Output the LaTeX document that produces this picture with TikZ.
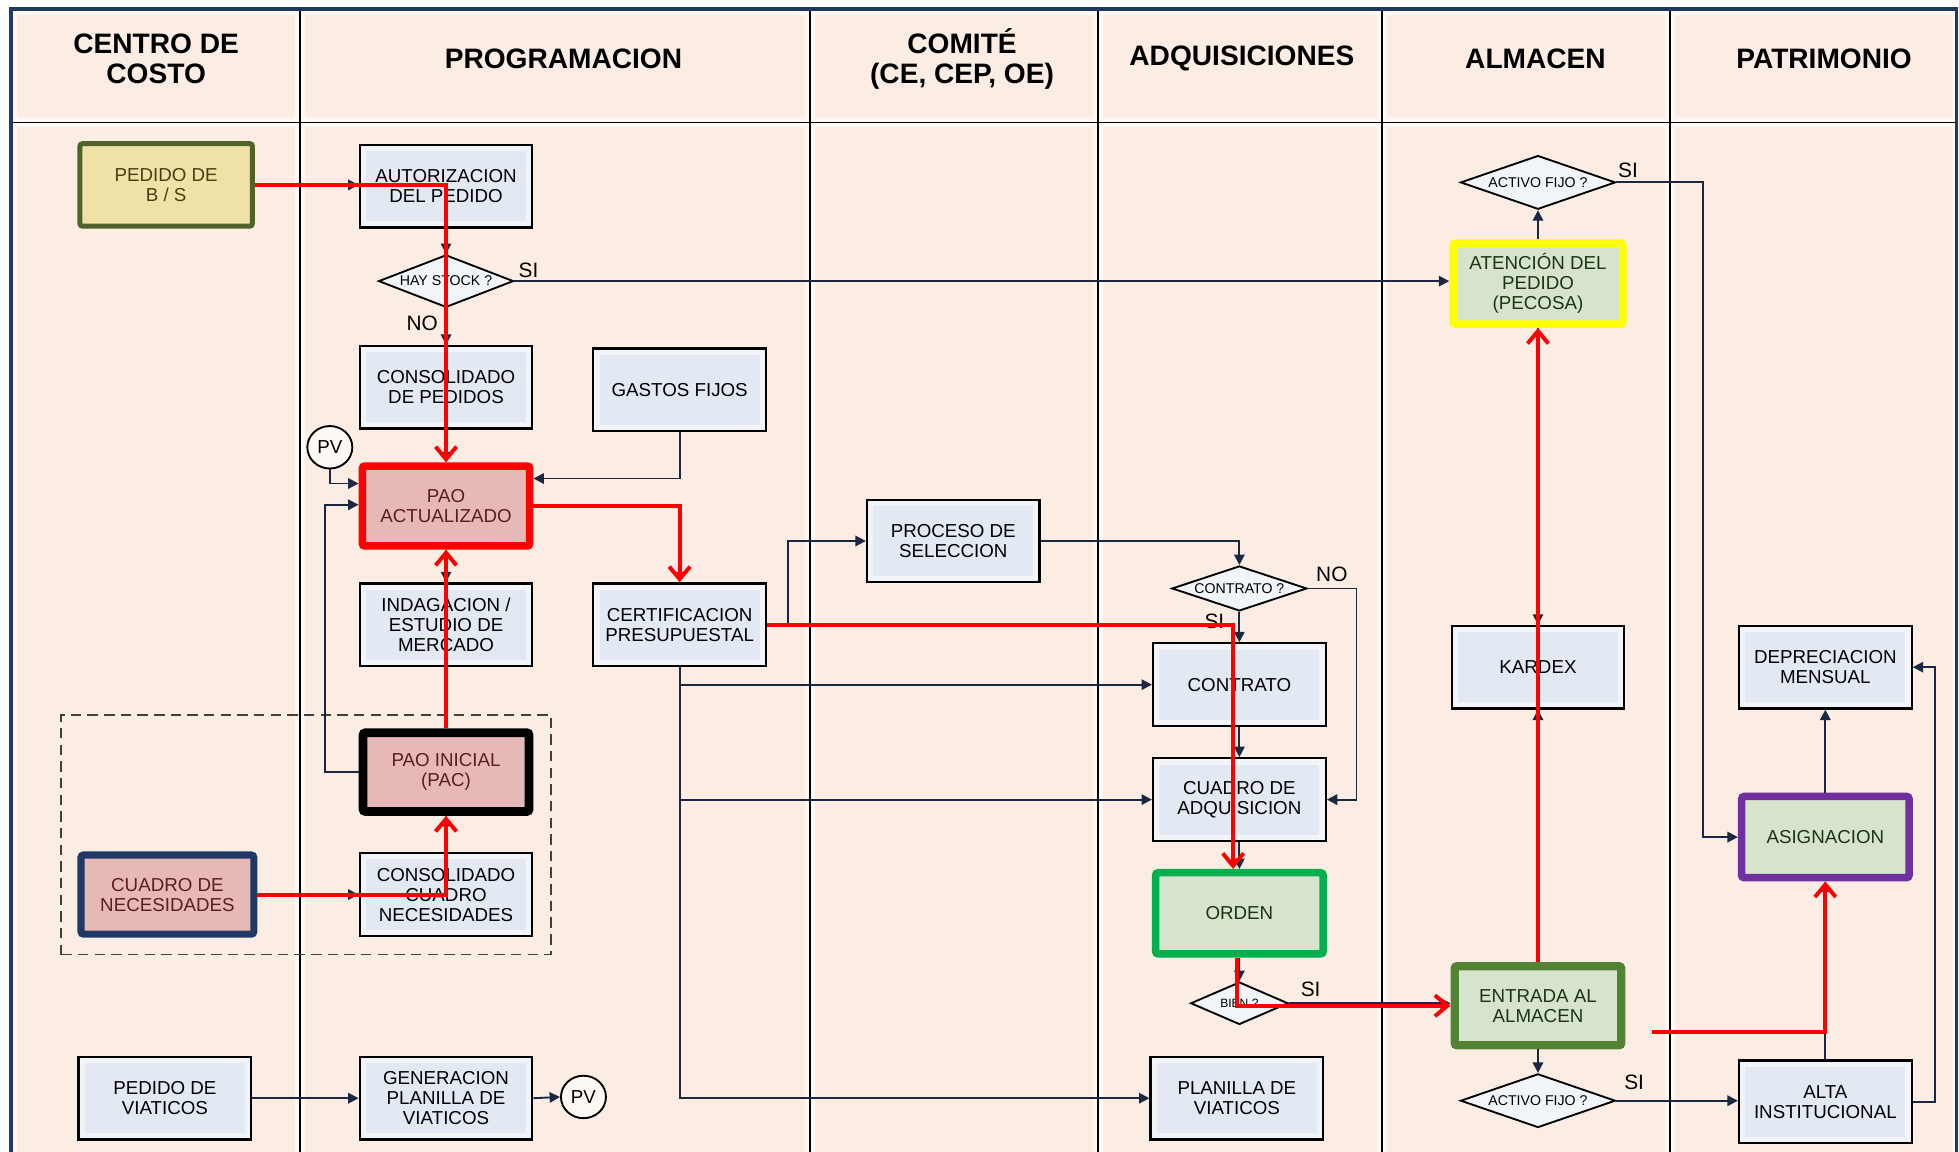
\documentclass[tikz,border=0pt]{standalone}
\usepackage{fontspec}
\setmainfont{Liberation Sans}
\usetikzlibrary{arrows.meta,shapes.geometric,calc}
\definecolor{lanebg}{HTML}{FBEDE3}
\definecolor{glow}{HTML}{FEF8F4}
\definecolor{framec}{HTML}{1F3864}
\definecolor{boxfill}{HTML}{F1F4F9}
\definecolor{boxin}{HTML}{E2E9F3}
\definecolor{pinkfill}{HTML}{E6B9B8}
\definecolor{greenfill}{HTML}{D7E4CD}
\definecolor{khaki}{HTML}{F0E2A6}
\definecolor{olive}{HTML}{4F6228}
\definecolor{navyb}{HTML}{1F3864}
\definecolor{connc}{HTML}{1C2741}
\definecolor{ordgreen}{HTML}{00B050}
\definecolor{entgreen}{HTML}{548235}
\definecolor{purp}{HTML}{7030A0}
\definecolor{yel}{HTML}{FFFF00}
\definecolor{redc}{HTML}{FF0000}
\definecolor{maroon}{HTML}{5A1E1E}
\definecolor{dgreen}{HTML}{1E3314}
\definecolor{brownol}{HTML}{4A3D10}
\newcommand\bxf{\fontsize{9}{9.6}\selectfont}
\newcommand\hdf{\bfseries\fontsize{13.5}{14.5}\selectfont}
\begin{document}
\begin{tikzpicture}[x=0.6pt,y=-0.6pt,
  box/.style={rectangle, draw=black, line width=1.1pt, fill=boxfill,
    minimum width=82.9pt, minimum height=39.7pt, inner sep=1pt, align=center,
    font=\bxf, text=black,
    path picture={\fill[boxin] ($(path picture bounding box.south west)+(3pt,3pt)$) rectangle ($(path picture bounding box.north east)+(-3pt,-3pt)$);}},
  hlbox/.style={rectangle, rounded corners=1.2pt, inner sep=1pt, align=center, font=\bxf},
  dia/.style={diamond, draw=black, line width=0.9pt, fill=boxfill, inner sep=0pt,
    font=\fontsize{6.8}{7}\selectfont, text=black},
  pvc/.style={ellipse, draw=black, line width=0.9pt, fill=glow, inner sep=0pt,
    minimum width=21.6pt, minimum height=20.4pt, font=\fontsize{9}{9}\selectfont},
  hdr/.style={align=center, font=\hdf, text=black},
  lbl/.style={font=\fontsize{10}{10}\selectfont, text=black, inner sep=0pt},
  conn/.style={draw=connc, line width=0.9pt, -{Triangle[length=5pt,width=5pt]}},
  plain/.style={draw=connc, line width=0.9pt},
  redp/.style={draw=redc, line width=1.9pt, -{Straight Barb[length=6pt,width=10pt,line width=1.9pt]}}
]
\useasboundingbox (0,0) rectangle (1568,922);
\clip (0,0) rectangle (1568,922);
% background
\fill[white] (0,0) rectangle (1568,922);
\fill[glow] (10,8) rectangle (1566,930);
\foreach \a/\b in {10/240,240/648,648/879,879/1106,1106/1337,1337/1566}{
  \fill[lanebg] (\a+4,12) rectangle (\b-4,94);
  \fill[lanebg] (\a+4,102) rectangle (\b-4,930);
}
\foreach \a in {240,648,879,1106,1337}{
  \draw[black, line width=0.9pt] (\a,8) -- (\a,930);
}
\draw[black, line width=0.9pt] (10,98) -- (1566,98);
\draw[framec, line width=1.8pt] (9,7) rectangle (1566,935);
% headers
\node[hdr] (h1) at (125,47) {CENTRO DE\\COSTO};
\node[hdr] (h2) at (451,47) {PROGRAMACION};
\node[hdr] (h3) at (770,47) {COMITÉ\\(CE, CEP, OE)};
\node[hdr] (h4) at (994,47) {ADQUISICIONES};
\node[hdr] (h5) at (1229,47) {ALMACEN};
\node[hdr] (h6) at (1460,47) {PATRIMONIO};
% dashed group
\node[draw=black!75, dashed, dash pattern=on 5pt off 3pt, line width=0.9pt, minimum width=235.2pt, minimum height=115.2pt, inner sep=0pt] (grp) at (245,668) {};
% nodes
\node[hlbox, draw=olive, line width=2.4pt, fill=khaki, text=brownol, minimum width=82.8pt, minimum height=39.6pt] (pbs) at (133,148) {PEDIDO DE\\B / S};
\node[box] (aut) at (357,149) {AUTORIZACION\\DEL PEDIDO};
\node[dia, aspect=2.57, minimum width=64.8pt, minimum height=25.2pt] (hay) at (357,225) {HAY STOCK ?};
\node[box] (cped) at (357,310) {CONSOLIDADO\\DE PEDIDOS};
\node[box] (gas) at (544,312) {GASTOS FIJOS};
\node[pvc] (pv1) at (264,358) {PV};
\node[hlbox, draw=redc, line width=3.6pt, fill=pinkfill, text=maroon, minimum width=80.4pt, minimum height=38.4pt] (paoa) at (357,405) {PAO\\ACTUALIZADO};
\node[box] (ind) at (357,500) {INDAGACION /\\ESTUDIO DE\\MERCADO};
\node[box] (cert) at (544,500) {CERTIFICACION\\PRESUPUESTAL};
\node[box] (proc) at (763,433) {PROCESO DE\\SELECCION};
\node[dia, aspect=3, minimum width=64.8pt, minimum height=21.6pt] (con) at (992,471) {CONTRATO ?};
\node[box] (cont) at (992,548) {CONTRATO};
\node[box] (cadq) at (992,640) {CUADRO DE\\ADQUISICION};
\node[hlbox, draw=ordgreen, line width=3.6pt, fill=greenfill, text=dgreen, minimum width=80.4pt, minimum height=39pt] (ord) at (992,731) {ORDEN};
\node[dia, aspect=2.3, minimum width=46.8pt, minimum height=20.4pt, font=\fontsize{5.8}{6}\selectfont] (bien) at (992,803) {BIEN ?};
\node[box] (plan) at (990,879) {PLANILLA DE\\VIATICOS};
\node[hlbox, draw=black, line width=4.2pt, fill=pinkfill, text=maroon, minimum width=79.8pt, minimum height=37.8pt] (paoi) at (357,618) {PAO INICIAL\\(PAC)};
\node[hlbox, draw=navyb, line width=3.4pt, fill=pinkfill, text=maroon, minimum width=83pt, minimum height=38pt] (cnec) at (134,716) {CUADRO DE\\NECESIDADES};
\node[box] (ccn) at (357,716) {CONSOLIDADO\\CUADRO\\NECESIDADES};
\node[box] (pvia) at (132,879) {PEDIDO DE\\VIATICOS};
\node[box] (gen) at (357,879) {GENERACION\\PLANILLA DE\\VIATICOS};
\node[pvc] (pv2) at (467,878) {PV};
\node[dia, aspect=2.88, minimum width=74.4pt, minimum height=25.8pt] (af1) at (1231,146) {ACTIVO FIJO ?};
\node[hlbox, draw=yel, line width=3.6pt, fill=greenfill, text=dgreen, minimum width=81.6pt, minimum height=39pt] (aten) at (1231,227) {ATENCIÓN DEL\\PEDIDO\\(PECOSA)};
\node[box] (kar) at (1231,534) {KARDEX};
\node[hlbox, draw=entgreen, line width=4pt, fill=greenfill, text=dgreen, minimum width=80pt, minimum height=38pt] (ent) at (1231,805) {ENTRADA AL\\ALMACEN};
\node[dia, aspect=2.88, minimum width=74.4pt, minimum height=25.8pt] (af2) at (1231,881) {ACTIVO FIJO ?};
\node[box] (dep) at (1461,534) {DEPRECIACION\\MENSUAL};
\node[hlbox, draw=purp, line width=3.6pt, fill=greenfill, text=dgreen, minimum width=80.4pt, minimum height=39pt] (asig) at (1461,670) {ASIGNACION};
\node[box] (alta) at (1461,882) {ALTA\\INSTITUCIONAL};
\coordinate (rs) at (1322,826);
% labels
\node[lbl] (l1) at (423,216) {SI};
\node[lbl] (l2) at (338,259) {NO};
\node[lbl] (l3) at (1066,460) {NO};
\node[lbl] (l4) at (972,497) {SI};
\node[lbl] (l5) at (1049,792) {SI};
\node[lbl] (l6) at (1303,136) {SI};
\node[lbl] (l7) at (1308,866) {SI};
% thin connectors
\draw[conn] (pbs.east) -- (pbs.east -| aut.west);
\draw[conn] (aut.south) -- (hay.north);
\draw[conn] (hay.south) -- (cped.north);
\draw[conn] (hay.east) -- (hay.east -| aten.west);
\draw[conn] (cped.south) -- (paoa.north);
\draw[conn] (gas.south) |- ($(paoa.east)+(0,-22)$);
\draw[conn] (pv1.south) |- ($(paoa.west)+(0,-18)$);
\draw[conn] (paoi.west) -- ++(-27,0) |- ($(paoa.west)+(0,-1)$);
\draw[conn] (paoa.south) -- (ind.north);
\draw[conn] (paoa.east) -| (cert.north);
\draw[conn] (cert.east) -- ++(17,0) |- (proc.west);
\draw[conn] (proc.east) -| (con.north);
\draw[conn] (con.south) -- (cont.north);
\draw[conn] (con.east) -- ++(39,0) |- (cadq.east);
\draw[conn] (cont.south) -- (cadq.north);
\draw[conn] (cadq.south) -- (ord.north);
\draw[conn] (cert.south) |- (plan.west);
\draw[conn] (cert.south) |- (cont.west);
\draw[conn] (cert.south) |- (cadq.west);
\draw[conn] (ord.south) -- (bien.north);
\draw[conn] (bien.east) -- (bien.east -| ent.west);
\draw[conn] (ent.south) -- (af2.north);
\draw[conn] (af2.east) -- (af2.east -| alta.west);
\draw[conn] (ent.north) -- (kar.south);
\draw[conn] (aten.south) -- (kar.north);
\draw[conn] (aten.north) -- (af1.south);
\draw[conn] (af1.east) -- ++(69,0) |- (asig.west);
\draw[conn] (alta.north) -- (asig.south);
\draw[conn] (asig.north) -- (dep.south);
\draw[conn] (alta.east) -- ++(18,0) |- (dep.east);
\draw[conn] (pvia.east) -- (gen.west);
\draw[conn] (gen.east) -- (pv2.west);
\draw[conn] (cnec.east) -- (cnec.east -| ccn.west);
\draw[conn] (ccn.north) -- (paoi.south);
% red path
\draw[redp] (pbs.east) -| (paoa.north);
\draw[redp] (paoa.east) -| (cert.north);
\draw[redp] (cert.east) -| ($(ord.north)+(-5,0)$);
\draw[redp] ($(ord.south)+(-2,0)$) |- (ent.west);
\draw[redp] (ent.north) -- (aten.south);
\draw[redp] (rs) -| (asig.south);
\draw[redp] (cnec.east) -| (paoi.south);
\draw[redp] (paoi.north) -- (paoa.south);
\end{tikzpicture}
\end{document}
